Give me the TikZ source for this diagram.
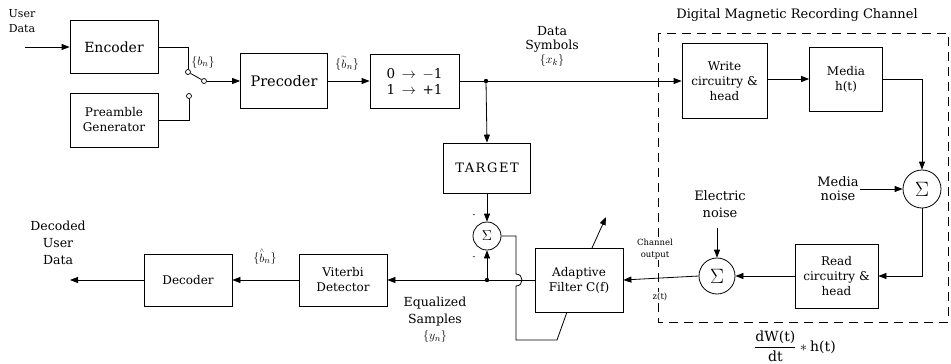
\documentclass[tikz,border=0pt]{standalone}
\usepackage{fontspec}
\setmainfont{DejaVu Serif}
\usetikzlibrary{arrows.meta}
\newcommand{\tb}{\stackrel{\scriptscriptstyle\sim}{b}}
\newcommand{\hb}{\stackrel{\scriptscriptstyle\wedge}{b}}
\begin{document}
\begin{tikzpicture}[x=1pt,y=-1pt,line width=0.8pt,
  blk/.style={draw,align=center,inner sep=0pt,font=\fontsize{12}{15}\selectfont},
  lbl/.style={align=center,inner sep=1pt,font=\fontsize{12.5}{15}\selectfont},
  smalllbl/.style={align=center,inner sep=1pt,font=\fontsize{8.5}{12}\selectfont},
  arr/.style={-{Triangle[length=8pt,width=6pt]}},
  sumc/.style={draw,circle,inner sep=0pt,minimum size=#1},
  cont/.style={draw,circle,fill=white,inner sep=0pt,minimum size=5pt,line width=0.7pt}]
\useasboundingbox (0,0) rectangle (951,364);

% dashed channel box
\draw[line width=0.9pt,dash pattern=on 9pt off 6pt] (658,33) rectangle (948,322);
\node[lbl,font=\fontsize{13}{15}\selectfont] (title) at (797,15) {Digital Magnetic Recording Channel};

% top row
\node[lbl,font=\fontsize{11}{15}\selectfont] (ud) at (22,21) {User\\Data};
\coordinate (udin) at (25,47);
\node[blk,font=\fontsize{14}{16}\selectfont,minimum width=88pt,minimum height=53pt] (enc) at (114,47) {Encoder};
\node[blk,minimum width=88pt,minimum height=54pt] (pre) at (114,120) {Preamble\\Generator};
\node[cont] (c1) at (188,72) {};
\node[cont] (c2) at (189,96) {};
\node[cont] (pv) at (204,81) {};
\node[blk,font=\fontsize{14.5}{16}\selectfont,minimum width=87pt,minimum height=55pt] (prec) at (284,81) {Precoder};
\node[blk,font=\fontsize{13.5}{16}\selectfont,minimum width=89pt,minimum height=54pt] (map) at (414.5,81) {0 \,$\rightarrow$\, $-$1\\1 \,$\rightarrow$\, +1};
\coordinate (j1) at (486,81);
\node[blk,minimum width=85pt,minimum height=75pt] (wr) at (724.5,81) {Write\\circuitry \&\\head};
\node[blk,minimum width=73pt,minimum height=64pt] (med) at (846,79) {Media\\h(t)};

\draw[arr] (udin) -- (enc.west);
\draw (enc.east) -| (c1);
\draw (pre.east) -| (c2);
\draw (pv) -- (c1);
\draw[arr] (pv) -- (prec.west);
\draw[arr] (prec.east) -- (map.west);
\draw (map.east) -- (j1);
\draw[arr] (j1) -- (wr.west);
\fill (j1) circle (2.2pt);
\draw[arr] (wr.east |- med) -- (med.west);

\node[lbl] (bn) at (203,62) {$\{b_n\}$};
\node[lbl] (btn) at (347,63) {$\{\tb_n\}$};
\node[lbl,font=\fontsize{12.5}{14}\selectfont] (ds) at (552,46) {Data\\Symbols\\$\{x_k\}$};

% channel right side
\node[sumc=38pt,font=\fontsize{20}{20}\selectfont] (s1) at (922,189) {$\Sigma$};
\node[lbl,font=\fontsize{13}{14}\selectfont] (mn) at (838,189) {Media\\noise};
\node[blk,minimum width=83pt,minimum height=64pt] (rd) at (836.5,276) {Read\\circuitry \&\\head};
\node[sumc=36pt,font=\fontsize{20}{20}\selectfont] (s2) at (717,276) {$\Sigma$};
\node[lbl,font=\fontsize{13}{17}\selectfont] (en) at (720,204) {Electric\\noise};
\coordinate (en2) at (717,228);

\draw[arr] (med.east) -| (s1.north);
\draw[arr] (mn.east) -- (s1.west);
\draw[arr] (s1.south) |- (rd.east);
\draw[arr] (rd.west) -- (s2.east);
\draw[arr] (en2) -- (s2.north);

% adaptive filter and target
\node[blk,minimum width=88pt,minimum height=64pt] (af) at (579,280) {Adaptive\\Filter C(f)};
\draw[arr] (s2.west) -- (af.east);
\node[smalllbl,fill=white] (co) at (655,249) {Channel\\output};
\node[smalllbl,fill=white] (zt) at (660,297) {z(t)};

\node[blk,font=\fontsize{13}{15}\selectfont\addfontfeatures{LetterSpace=12},minimum width=87pt,minimum height=50pt] (tg) at (487,168) {TARGET};
\node[sumc=28pt,font=\fontsize{15}{15}\selectfont] (s3) at (487,236) {$\Sigma$};
\coordinate (j2) at (487,280);
\draw[arr] (j1) -- (tg.north);
\draw[arr] (tg.south) -- (s3.north);
\node[smalllbl] (m1) at (474,216) {-};
\node[smalllbl] (m2) at (474,258) {-};

\node[blk,minimum width=88pt,minimum height=52pt] (vd) at (343,280) {Viterbi\\Detector};
\node[blk,minimum width=88pt,minimum height=52pt] (dec) at (188,280) {Decoder};
\coordinate (out) at (70,280);

\draw[arr] (af.west) -- (vd.east);
\draw[arr] (j2) -- (s3.south);
\fill (j2) circle (2.2pt);
\draw[arr] (vd.west) -- (dec.east);
\draw[arr] (dec.west) -- (out);

% feedback from error sum to adaptive filter
\coordinate (fb1) at (516,236);
\coordinate (fb2) at (516,274);
\coordinate (fb3) at (516,286);
\coordinate (fb4) at (516,340);
\coordinate (fb5) at (557,340);
\coordinate (fb6) at (567,312);
\draw (s3.east) -- (fb1) -- (fb2) .. controls (524,274) and (524,286) .. (fb3) -- (fb4) -- (fb5) -- (fb6);
\coordinate (ad1) at (592,248);
\coordinate (ad2) at (606,217);
\draw[arr] (ad1) -- (ad2);

% labels bottom
\node[lbl,font=\fontsize{12.5}{17}\selectfont] (dud) at (58,243) {Decoded\\User\\Data};
\node[lbl] (bhn) at (265,256) {$\{\hb_n\}$};
\node[lbl,font=\fontsize{12.5}{16.5}\selectfont] (eq) at (435,320) {Equalized\\Samples\\$\{y_n\}$};
\node[lbl,font=\fontsize{14}{16}\selectfont] (form) at (795,346) {$\displaystyle\frac{\mbox{dW(t)}}{\mbox{dt}}\ast\mbox{h(t)}$};
\end{tikzpicture}
\end{document}
